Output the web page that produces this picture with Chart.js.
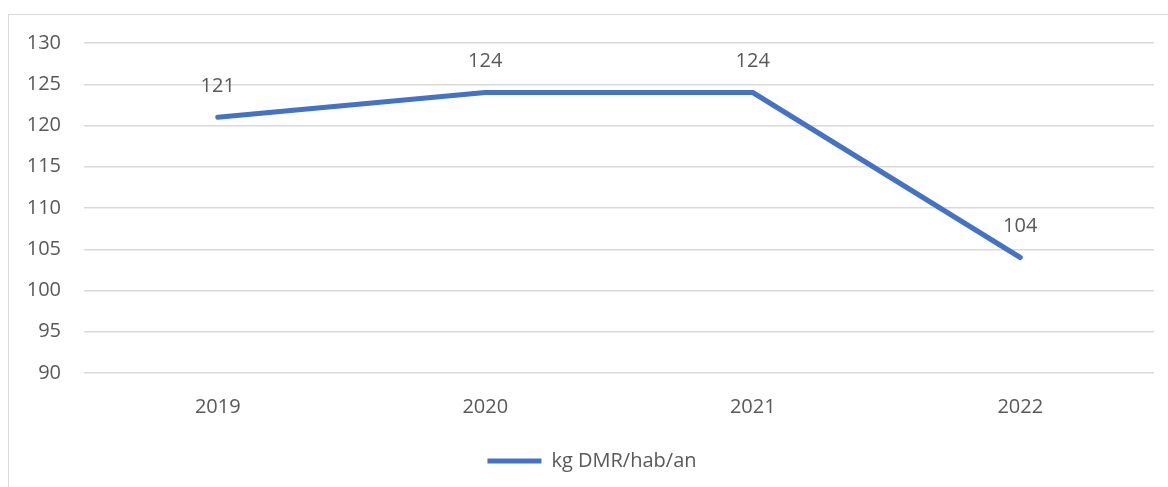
<!DOCTYPE html>
<html>
<head>
<meta charset="utf-8">
<script src="https://cdn.jsdelivr.net/npm/chart.js@4/dist/chart.umd.min.js"></script>
<style>
  html, body { margin: 0; padding: 0; background: #fff; }
  #wrap { position: relative; width: 1168px; height: 487px; overflow: hidden; }
  #frame { position: absolute; left: 8px; top: 14px; width: 1200px; height: 520px; border: 1px solid #d9d9d9; }
  #chart { position: absolute; left: 0; top: 0; }
</style>
</head>
<body>
<div id="wrap">
  <div id="frame"></div>
  <canvas id="chart" width="1168" height="487"></canvas>
</div>
<script>
// données
const years = ['2019', '2020', '2021', '2022'];
const dmrValues = [121, 124, 124, 104];
const serieLabel = 'kg DMR/hab/an';
const yMin = 90, yMax = 130, yStep = 5;

const textColor = '#595959';
const lineColor = '#4472C4';
const fontFamily = "'Open Sans', sans-serif";

// étiquettes de valeurs au-dessus des points
const valueLabels = {
    id: 'valueLabels',
    afterDatasetsDraw(chart) {
        const ctx = chart.ctx;
        const meta = chart.getDatasetMeta(0);
        ctx.save();
        ctx.font = `20px ${fontFamily}`;
        ctx.fillStyle = textColor;
        ctx.textAlign = 'center';
        ctx.textBaseline = 'middle';
        meta.data.forEach((pt, i) => {
            ctx.fillText(String(dmrValues[i]), pt.x, pt.y - 31);
        });
        ctx.restore();
    }
};

// légende un peu décalée vers la droite (centrée comme dans l'original)
const legendShift = {
    id: 'legendShift',
    afterLayout(chart) {
        if (chart.legend) {
            chart.legend.left += 15;
            chart.legend.right += 15;
        }
    }
};

const ctx = document.getElementById('chart').getContext('2d');
const dmrChart = new Chart(ctx, {
    type: 'line',
    data: {
        labels: years,
        datasets: [{
            label: serieLabel,
            data: dmrValues,
            borderColor: lineColor,
            backgroundColor: lineColor,
            borderWidth: 5,
            borderCapStyle: 'round',
            borderJoinStyle: 'round',
            pointRadius: 0,
            tension: 0,
            fill: false
        }]
    },
    options: {
        responsive: false,
        animation: false,
        layout: { padding: { top: 43, right: 14, bottom: 6 } },
        plugins: {
            tooltip: { enabled: false },
            legend: {
                position: 'bottom',
                labels: {
                    usePointStyle: true,
                    pointStyle: 'line',
                    pointStyleWidth: 54,
                    boxHeight: 5,
                    padding: 12,
                    color: textColor,
                    font: { family: fontFamily, size: 20 }
                }
            }
        },
        scales: {
            x: {
                offset: true,
                grid: { display: false },
                border: { display: false },
                ticks: { color: textColor, padding: 14, font: { family: fontFamily, size: 20 } },
                afterFit(scale) { scale.height = 66; }
            },
            y: {
                min: yMin,
                max: yMax,
                grid: { color: '#d9d9d9', lineWidth: 1.5, drawTicks: false },
                border: { display: false },
                ticks: { stepSize: yStep, color: textColor, padding: 23, font: { family: fontFamily, size: 20 } },
                afterFit(scale) { scale.width = 84; }
            }
        }
    },
    plugins: [valueLabels, legendShift]
});
</script>
</body>
</html>
